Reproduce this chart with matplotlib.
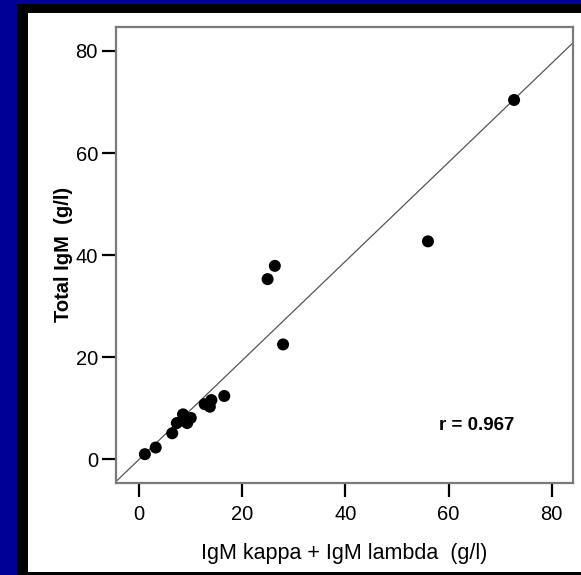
import matplotlib
matplotlib.use("Agg")
import matplotlib.pyplot as plt
from matplotlib.patches import Rectangle

plt.rcParams['font.family'] = ['Liberation Sans', 'DejaVu Sans']

# Data (g/l)
kappa_plus_lambda = [1.1, 3.2, 6.4, 7.3, 8.5, 10.0, 9.3, 12.7, 14.0, 13.7, 16.5,
                     24.9, 26.3, 27.9, 56.0, 72.7]
total_igm = [1.0, 2.3, 5.1, 7.1, 8.8, 8.1, 7.1, 10.8, 11.6, 10.3, 12.4,
             35.3, 37.9, 22.5, 42.7, 70.4]
fit_slope = 0.97
fit_intercept = 0.0
r_text = "r = 0.967"
xticks = [0, 20, 40, 60, 80]
yticks = [0, 20, 40, 60, 80]
xlabel = "IgM kappa + IgM lambda  (g/l)"
ylabel = "Total IgM  (g/l)"

W, H = 581, 575
fig = plt.figure(figsize=(W / 100, H / 100), dpi=100)
fig.patch.set_facecolor('#000096')
# black frame and white panel
fig.patches.append(Rectangle((17 / W, 0), 1, 1 - 4 / H, transform=fig.transFigure,
                             facecolor='black', edgecolor='none', zorder=-10))
fig.patches.append(Rectangle((27.5 / W, 3.5 / H), 1, 1 - 13.3 / H - 3.5 / H,
                             transform=fig.transFigure,
                             facecolor='white', edgecolor='none', zorder=-9))

ax = fig.add_axes([116 / W, 1 - 482.5 / H, (572.7 - 116) / W, (482.5 - 26.7) / H])
ax.set_zorder(5)
ax.set_facecolor('white')
ax.set_xlim(-4.5, 84.07)
ax.set_ylim(-4.55, 84.76)

x0, x1 = ax.get_xlim()
ax.plot([x0, x1], [fit_intercept + fit_slope * x0, fit_intercept + fit_slope * x1],
        color='#555555', lw=0.9, zorder=2)
ax.scatter(kappa_plus_lambda, total_igm, s=75, color='black', zorder=3, edgecolors='none')

ax.text(65.5, 6.6, r_text, fontsize=13.5, fontweight='bold', ha='center', va='center')

for sp in ax.spines.values():
    sp.set_color('#7a7a7a')
    sp.set_linewidth(1.6)

ax.set_xticks(xticks)
ax.set_yticks(yticks)
ax.tick_params(direction='out', length=10, width=1.6, color='black',
               labelsize=14.5, pad=3)
ax.tick_params(axis='x', pad=6)
ax.set_xlabel(xlabel, fontsize=15.5, labelpad=14)
ax.set_ylabel(ylabel, fontsize=14.5, fontweight='bold', labelpad=2)

fig.savefig('out.png', dpi=100, facecolor=fig.get_facecolor())
